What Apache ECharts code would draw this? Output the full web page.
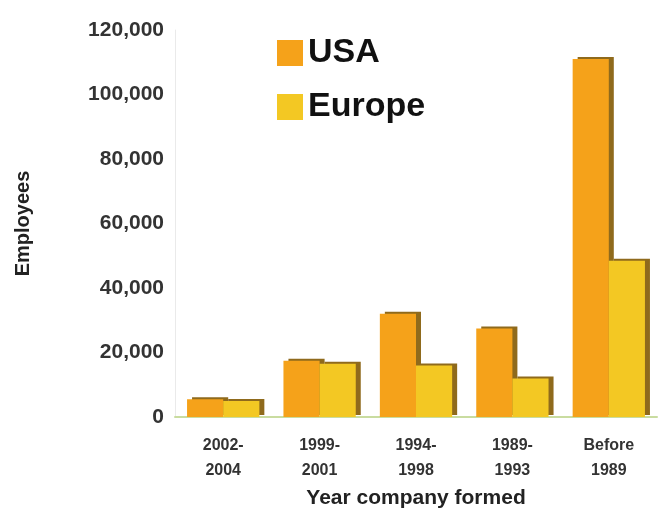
<!DOCTYPE html>
<html><head><meta charset="utf-8">
<script src="https://cdn.jsdelivr.net/npm/echarts@6/dist/echarts.min.js"></script>
<style>html,body{margin:0;padding:0;background:#fff}#c{width:659px;height:514px}</style>
</head><body><div id="c"></div>
<script>
const categories = ['2002-\n2004', '1999-\n2001', '1994-\n1998', '1989-\n1993', 'Before\n1989'];
const usa = [5500, 17500, 32000, 27500, 111000];
const europe = [5000, 16500, 16000, 12000, 48500];
const yTicks = [0, 20000, 40000, 60000, 80000, 100000, 120000];

const chart = echarts.init(document.getElementById('c'));
const shade = {shadowColor: '#8f6a1c', shadowOffsetX: 5, shadowOffsetY: -2, shadowBlur: 0};
chart.setOption({
  animation: false,
  backgroundColor: '#fff',
  grid: {left: 175, right: 2, top: 30, bottom: 96},
  legend: {
    orient: 'vertical', left: 272, top: 31, itemWidth: 26, itemHeight: 26, itemGap: 20,
    icon: 'rect',
    textStyle: {fontFamily: 'Liberation Sans', fontWeight: 'bold', fontSize: 34, color: '#111'},
    data: ['USA', 'Europe']
  },
  xAxis: {
    type: 'category', data: categories,
    axisLine: {lineStyle: {color: '#c9dca0', width: 2}},
    axisTick: {show: false},
    axisLabel: {fontFamily: 'Liberation Sans', fontWeight: 'bold', fontSize: 16, color: '#333', lineHeight: 25, margin: 16},
    name: 'Year company formed', nameLocation: 'middle', nameGap: 68,
    nameTextStyle: {fontFamily: 'Liberation Sans', fontWeight: 'bold', fontSize: 21, color: '#222'}
  },
  yAxis: {
    type: 'value', min: yTicks[0], max: yTicks[yTicks.length - 1], interval: 20000,
    axisLine: {show: true, lineStyle: {color: '#eaeaea'}},
    axisTick: {show: false},
    splitLine: {show: false},
    axisLabel: {fontFamily: 'Liberation Sans', fontWeight: 'bold', fontSize: 21, color: '#333', margin: 11,
      formatter: v => v.toLocaleString('en-US')},
    name: 'Employees', nameLocation: 'middle', nameGap: 142, nameRotate: 90,
    nameTextStyle: {fontFamily: 'Liberation Sans', fontWeight: 'bold', fontSize: 20, color: '#222'}
  },
  series: [
    {name: 'USA', type: 'bar', data: usa, barGap: '0%', barCategoryGap: '25%',
      itemStyle: Object.assign({color: '#f5a21a'}, shade)},
    {name: 'Europe', type: 'bar', data: europe,
      itemStyle: Object.assign({color: '#f3c823'}, shade)}
  ]
});
</script></body></html>
